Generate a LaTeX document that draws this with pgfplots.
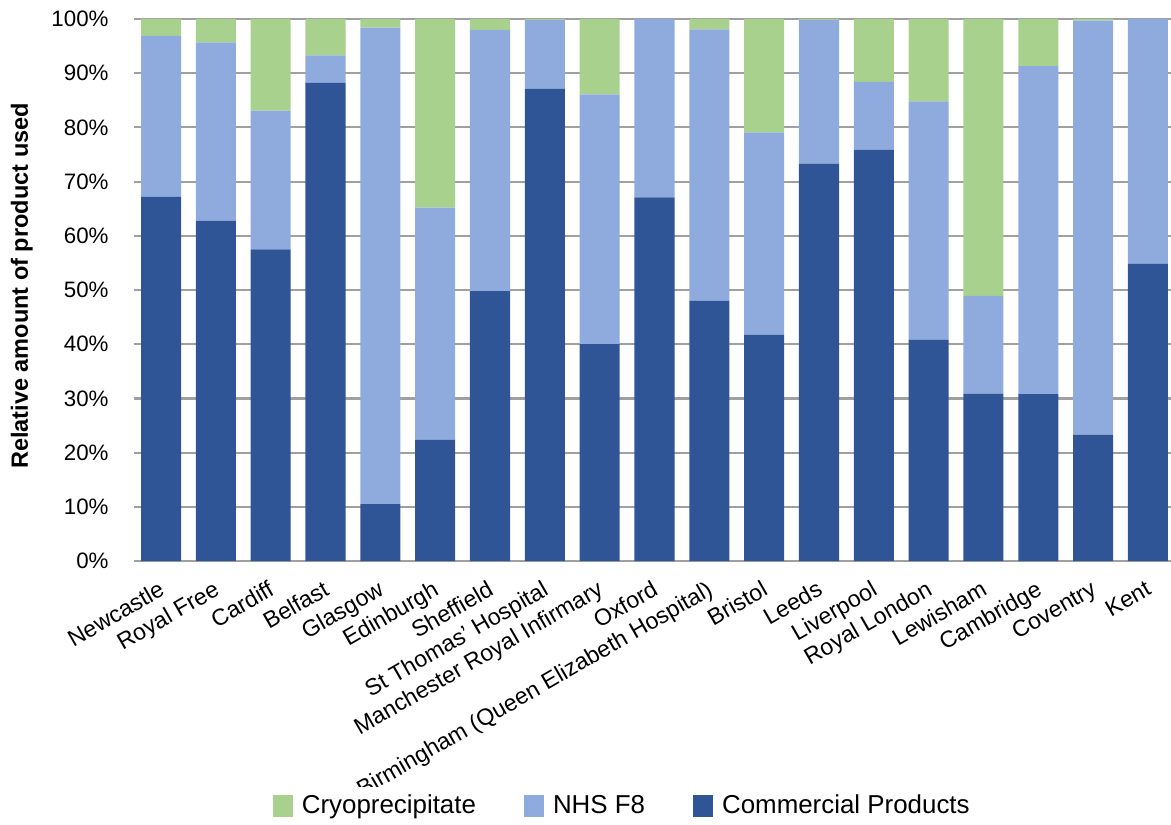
\documentclass[border=0pt]{standalone}
\usepackage{fontspec}
\setmainfont{Liberation Sans}
\usepackage{pgfplots}
\pgfplotsset{compat=1.18}
\usepackage{pgfplotstable}

\definecolor{commblue}{HTML}{2F5597}
\definecolor{nhsblue}{HTML}{8FAADC}
\definecolor{cryogreen}{HTML}{A9D18E}
\definecolor{gridgray}{HTML}{A0A0A0}

% x, commercial, NHS F8, cryoprecipitate (per cent)
\pgfplotstableread{
x comm nhs cryo
0  67.2 29.7  3.1
1  62.8 32.9  4.3
2  57.5 25.6 16.9
3  88.2  5.1  6.7
4  10.5 87.9  1.6
5  22.4 42.8 34.8
6  49.8 48.2  2.0
7  87.1 12.7  0.2
8  40.0 46.1 13.9
9  67.1 32.9  0.0
10 48.0 50.1  1.9
11 41.7 37.4 20.9
12 73.3 26.5  0.2
13 75.9 12.5 11.6
14 40.8 44.0 15.2
15 30.9 18.0 51.1
16 30.8 60.5  8.7
17 23.3 76.4  0.3
18 54.8 45.2  0.0
}\hospdata

\begin{document}
\begin{tikzpicture}
\begin{axis}[
    name=ax,
    scale only axis,
    width=518.7bp,
    height=271bp,
    ybar stacked,
    bar width=0.73,
    xmin=-0.5, xmax=18.42,
    ymin=0, ymax=100,
    ytick={0,10,...,100},
    yticklabel={\pgfmathprintnumber[assume math mode=true]{\tick}\%},
    yticklabel style={font=\fontsize{11.2}{13}\selectfont, xshift=-9bp},
    xtick=data,
    xticklabels={Newcastle, Royal Free, Cardiff, Belfast, Glasgow, Edinburgh,
      Sheffield, St Thomas' Hospital, Manchester Royal Infirmary, Oxford,
      {Birmingham (Queen Elizabeth Hospital)}, Bristol, Leeds, Liverpool,
      Royal London, Lewisham, Cambridge, Coventry, Kent},
    xticklabel style={font=\fontsize{11.6}{13}\selectfont, rotate=30,
      anchor=north east, inner sep=1bp, yshift=-6bp, xshift=-5bp},
    ylabel={\textbf{Relative amount of product used}},
    every axis y label/.style={at={(ticklabel cs:0.5)}, rotate=90,
      anchor=center, yshift=11.5bp, xshift=2bp,
      font=\fontsize{11.8}{13}\selectfont},
    major tick length=0pt,
    ymajorgrids,
    grid style={gridgray, line width=1.1bp},
    axis x line*=bottom,
    axis y line*=left,
    x axis line style={gridgray, line width=1.1bp, -},
    y axis line style={draw=none},
    legend columns=3,
    reverse legend,
    legend style={at={(0.472,-0.452)}, anchor=center, draw=none,
      font=\fontsize{13}{15}\selectfont,
      /tikz/every odd column/.append style={column sep=2.5bp},
      /tikz/every even column/.append style={column sep=22bp}},
    legend image code/.code={%
      \fill[#1] (0bp,-5.5bp) rectangle (10bp,5.5bp);},
]
\addplot[fill=commblue, draw=none] table[x=x, y=comm] {\hospdata};
\addplot[fill=nhsblue, draw=none] table[x=x, y=nhs] {\hospdata};
\addplot[fill=cryogreen, draw=none] table[x=x, y=cryo] {\hospdata};
\legend{Commercial Products, NHS F8, Cryoprecipitate}
\end{axis}
\pgfresetboundingbox
\path[use as bounding box] ([xshift=-66.8bp, yshift=-132bp]ax.south west)
  rectangle ([yshift=9.5bp]ax.north east);
\end{tikzpicture}
\end{document}
